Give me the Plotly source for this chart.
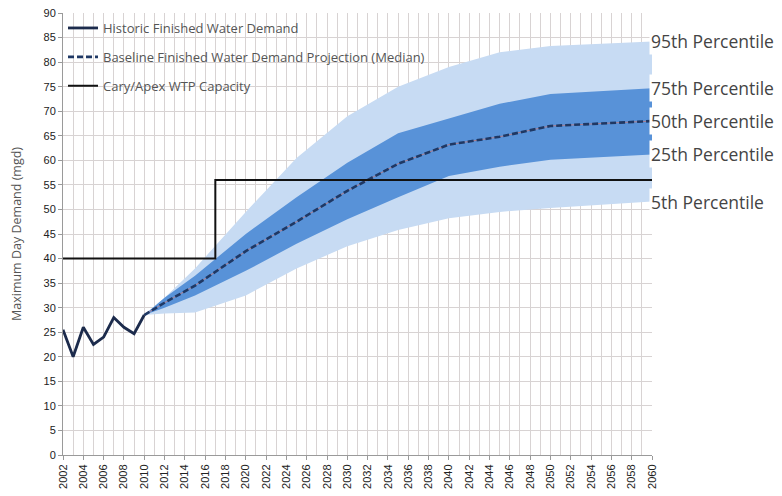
import plotly.graph_objects as go

# ---- data ----
hist_years = [2002, 2003, 2004, 2005, 2006, 2007, 2008, 2009, 2010]
hist_demand = [25.5, 20.0, 26.0, 22.5, 24.0, 28.0, 26.0, 24.7, 28.5]

proj_years = [2010, 2012, 2015, 2020, 2025, 2030, 2035, 2040, 2045, 2050, 2060]
p95 = [28.5, 32.0, 38.0, 49.5, 60.5, 69.0, 75.0, 79.0, 82.0, 83.3, 84.2]
p75 = [28.5, 32.0, 36.5, 45.0, 52.5, 59.5, 65.5, 68.5, 71.5, 73.5, 74.7]
p50 = [28.5, 31.0, 34.5, 41.5, 47.5, 53.8, 59.3, 63.2, 64.8, 67.0, 68.0]
p25 = [28.5, 30.0, 32.5, 37.5, 43.0, 48.0, 52.5, 56.8, 58.7, 60.1, 61.2]
p5 = [28.5, 28.8, 29.0, 32.5, 38.0, 42.5, 45.8, 48.2, 49.5, 50.3, 51.6]

cap_years = [2002, 2017, 2060]
cap_values = [40, 56, 56]

pct_labels = ["95th Percentile", "75th Percentile", "50th Percentile",
              "25th Percentile", "5th Percentile"]

x_ticks = list(range(2002, 2061, 2))
y_ticks = list(range(0, 91, 5))

LIGHT = "#c7dbf3"
DARK = "#5892d8"
NAVY = "#1f3864"

fig = go.Figure()

# outer band 5th-95th
fig.add_trace(go.Scatter(x=proj_years, y=p5, mode="lines", line=dict(width=0),
                         showlegend=False, hoverinfo="skip"))
fig.add_trace(go.Scatter(x=proj_years, y=p95, mode="lines", line=dict(width=0),
                         fill="tonexty", fillcolor=LIGHT, showlegend=False,
                         hoverinfo="skip"))
# inner band 25th-75th
fig.add_trace(go.Scatter(x=proj_years, y=p25, mode="lines", line=dict(width=0),
                         showlegend=False, hoverinfo="skip"))
fig.add_trace(go.Scatter(x=proj_years, y=p75, mode="lines", line=dict(width=0),
                         fill="tonexty", fillcolor=DARK, showlegend=False,
                         hoverinfo="skip"))

# historic
fig.add_trace(go.Scatter(x=hist_years, y=hist_demand, mode="lines",
                         name="Historic Finished Water Demand",
                         legendgroup="a",
                         line=dict(color="#1c2b4c", width=2.8)))
# thin red thread under median
fig.add_trace(go.Scatter(x=proj_years, y=p50, mode="lines",
                         line=dict(color="#c87878", width=0.8),
                         showlegend=False, hoverinfo="skip"))
# median projection
fig.add_trace(go.Scatter(x=proj_years, y=p50, mode="lines",
                         name="Baseline Finished Water Demand Projection (Median)",
                         legendgroup="b",
                         line=dict(color=NAVY, width=2.6, dash="6px,3px")))
# capacity
fig.add_trace(go.Scatter(x=cap_years, y=cap_values, mode="lines",
                         name="Cary/Apex WTP Capacity", legendgroup="c",
                         line=dict(color="#111111", width=2, shape="hv")))

# percentile labels on the right
for lab, arr in zip(pct_labels, [p95, p75, p50, p25, p5]):
    fig.add_annotation(x=1.0, xref="paper", y=arr[-1], yref="y",
                       text=lab, showarrow=False, xanchor="left",
                       yanchor="middle", xshift=-3, bgcolor="white",
                       font=dict(family="Open Sans", size=17.5, color="#444444"))

fig.update_layout(
    width=774, height=488,
    margin=dict(l=55, r=130, t=5, b=41, autoexpand=False),
    paper_bgcolor="white", plot_bgcolor="white",
    showlegend=True,
    legend=dict(x=0.0, y=1.0, xanchor="left", yanchor="top",
                bgcolor="rgba(255,255,255,0)", traceorder="grouped",
                tracegroupgap=9, itemwidth=30,
                font=dict(family="Open Sans", size=13, color="#555555")),
    xaxis=dict(range=[2002, 2060], tickmode="array", tickvals=x_ticks,
               ticktext=[str(v) for v in x_ticks], tickangle=-90,
               automargin=False, ticklabeloverflow="allow",
               showgrid=True, gridcolor="#d8d3d3", gridwidth=1,
               minor=dict(dtick=1, tick0=2002, showgrid=True,
                          gridcolor="#d8d3d3", gridwidth=1),
               showline=True, linecolor="#9a9a9a", linewidth=1,
               ticks="outside", ticklen=4, tickcolor="#9a9a9a",
               zeroline=False,
               tickfont=dict(family="Liberation Sans", size=11, color="#222222")),
    yaxis=dict(range=[0, 90], tickmode="array", tickvals=y_ticks,
               ticktext=[str(v) for v in y_ticks],
               automargin=False, ticklabeloverflow="allow",
               showgrid=True, gridcolor="#d8d3d3", gridwidth=1,
               showline=True, linecolor="#9a9a9a", linewidth=1,
               ticks="outside", ticklen=4, tickcolor="#9a9a9a",
               zeroline=False,
               tickfont=dict(family="Liberation Sans", size=11, color="#222222"),
               title=dict(text="Maximum Day Demand (mgd)", standoff=26,
                          font=dict(family="Open Sans", size=12.5, color="#555555"))),
)

fig.write_html("out.html")
